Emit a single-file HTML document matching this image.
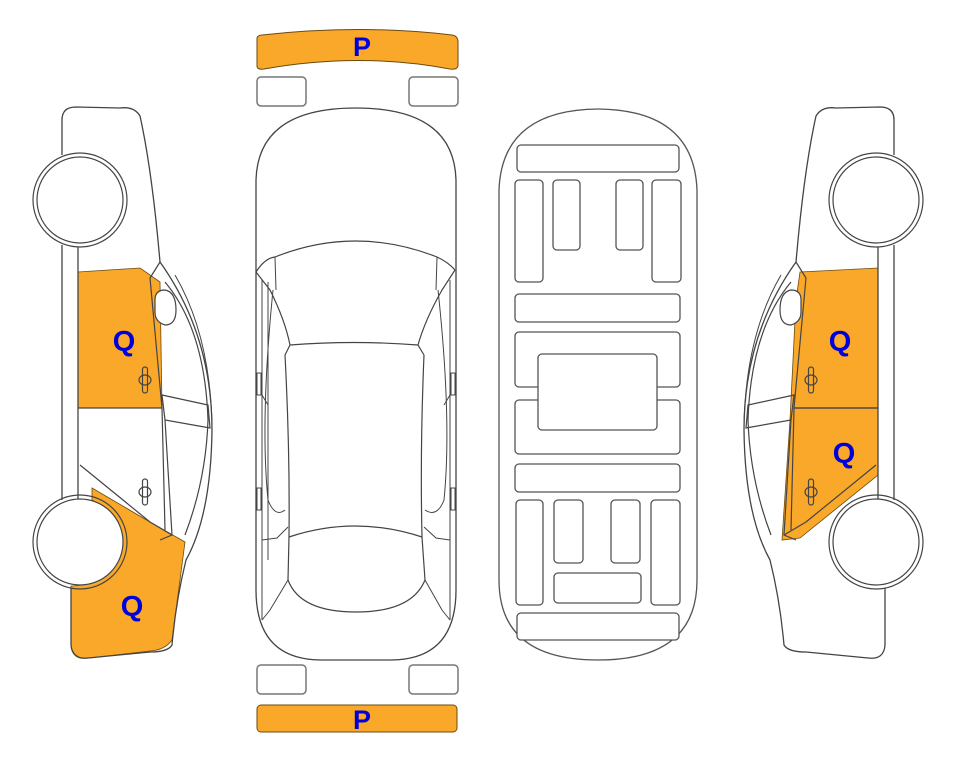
<!DOCTYPE html>
<html><head><meta charset="utf-8"><style>
html,body{margin:0;padding:0;background:#fff;}
svg{display:block;}
text{font-family:"Liberation Sans",Arial,sans-serif;font-weight:bold;fill:#0000dd;}
</style></head><body>
<svg width="963" height="768" viewBox="0 0 963 768" xmlns="http://www.w3.org/2000/svg">
<defs>
<g id="side">
  <!-- body outline -->
  <path d="M62,120 Q62,107 76,107 L120,108 Q134,106 140,116 Q152,170 160,262 Q212,335 212,430 Q211,515 186,560 Q176,600 172,645 Q168,652 150,652 L88,658 Q72,660 71,645 L71,588 M62,245 L62,500 M62,118 L62,155" fill="none" stroke="#444" stroke-width="1.3"/>
  <line x1="78" y1="245" x2="78" y2="500" stroke="#444" stroke-width="1.3"/>
  <!-- windows / pillars -->
  <path d="M160,262 L150,278 M165,282 Q205,330 208,420 Q206,480 185,535" fill="none" stroke="#444" stroke-width="1.2"/>
  <path d="M175,275 Q210,335 212,425" fill="none" stroke="#444" stroke-width="1"/>
  <path d="M162,395 L208,405 L210,428 L165,420 Z" fill="none" stroke="#444" stroke-width="1.2"/>
  <path d="M165,420 L172,535 L160,540" fill="none" stroke="#444" stroke-width="1.2"/>
  <path d="M150,278 L162,408 L165,530" fill="none" stroke="#444" stroke-width="1.2"/>
  <path d="M78,408 L162,408" fill="none" stroke="#444" stroke-width="1.2"/>
  <path d="M80,465 L150,522 L172,535" fill="none" stroke="#444" stroke-width="1.2"/>
  <!-- mirror -->
  <path d="M155,300 Q155,290 165,290 Q176,292 176,310 Q176,325 165,325 Q155,322 155,312 Z" fill="#fff" stroke="#444" stroke-width="1.2"/>
  <!-- wheels -->
  <circle cx="80" cy="200" r="47" fill="#fff" stroke="#444" stroke-width="1.2"/>
  <circle cx="80" cy="200" r="43" fill="#fff" stroke="#444" stroke-width="1.2"/>
  <circle cx="80" cy="542" r="47" fill="none" stroke="#444" stroke-width="1.2"/>
  <circle cx="80" cy="542" r="43" fill="#fff" stroke="#444" stroke-width="1.2"/>
</g>
<g id="handle">
  <rect x="-2.5" y="-13" width="5" height="26" rx="2.5" fill="none" stroke="#444" stroke-width="1.2"/>
  <ellipse cx="0" cy="0" rx="6" ry="5" fill="none" stroke="#444" stroke-width="1.2"/>
</g>
</defs>

<!-- LEFT CAR -->
<path d="M78,272 L140,268 L160,282 L162,408 L78,408 Z" fill="#faa82a" stroke="#6a4a10" stroke-width="0.8"/>
<path d="M92,488 L150,522 L185,542 L180,580 L172,640 Q165,650 150,651 L90,658 Q73,660 71,645 L71,586 Q105,585 118,560 Q128,520 92,500 Z" fill="#faa82a" stroke="#6a4a10" stroke-width="0.8"/>
<use href="#side"/>
<use href="#handle" x="145" y="380"/>
<use href="#handle" x="145" y="492"/>
<text x="124" y="351" font-size="29" text-anchor="middle">Q</text>
<text x="132" y="616" font-size="29" text-anchor="middle">Q</text>

<!-- RIGHT CAR -->
<path d="M800,272 L878,268 L878,475 L800,538 L782,540 L790,420 L796,300 Z" fill="#faa82a" stroke="#6a4a10" stroke-width="0.8"/>
<g transform="translate(956,0) scale(-1,1)">
  <use href="#side"/>
  <path d="M78,408 L162,408" stroke="#444" stroke-width="1.2"/>
  <use href="#handle" x="145" y="380"/>
  <use href="#handle" x="145" y="492"/>
</g>
<text x="840" y="351" font-size="29" text-anchor="middle">Q</text>
<text x="844" y="463" font-size="29" text-anchor="middle">Q</text>

<!-- TOP VIEW CAR -->
<path d="M257,38 Q258,35 262,35 Q360,24 452,35 Q458,36 458,42 L458,66 Q457,70 450,69 Q360,52 264,69 Q257,70 257,66 Z" fill="#faa82a" stroke="#6a4a10" stroke-width="1"/>
<text x="362" y="56" font-size="27" text-anchor="middle">P</text>
<rect x="257" y="77" width="49" height="29" rx="4" fill="#fff" stroke="#777" stroke-width="1.5"/>
<rect x="409" y="77" width="49" height="29" rx="4" fill="#fff" stroke="#777" stroke-width="1.5"/>
<rect x="257" y="665" width="49" height="29" rx="4" fill="#fff" stroke="#777" stroke-width="1.5"/>
<rect x="409" y="665" width="49" height="29" rx="4" fill="#fff" stroke="#777" stroke-width="1.5"/>
<rect x="257" y="705" width="200" height="27" rx="4" fill="#faa82a" stroke="#6a4a10" stroke-width="1"/>
<text x="362" y="729" font-size="27" text-anchor="middle">P</text>

<path d="M256,180 Q258,108 356,108 Q454,108 456,180 L456,590 Q456,660 390,660 L322,660 Q256,660 256,590 Z" fill="none" stroke="#444" stroke-width="1.3"/>
<path d="M256,272 Q265,258 275,257 Q355,225 437,257 Q448,262 455,270" fill="none" stroke="#444" stroke-width="1.2"/>
<path d="M256,272 L270,290 Q285,320 290,345 L285,355 M455,270 L442,290 Q425,320 418,345 L424,355" fill="none" stroke="#444" stroke-width="1.2"/>
<path d="M275,257 L276,290 M437,257 L436,290" fill="none" stroke="#444" stroke-width="1"/>
<path d="M290,345 Q355,340 418,345" fill="none" stroke="#444" stroke-width="1.2"/>
<path d="M285,355 Q290,450 289,537 M424,355 Q420,450 422,537" fill="none" stroke="#444" stroke-width="1.2"/>
<path d="M289,537 Q355,515 422,537" fill="none" stroke="#444" stroke-width="1.2"/>
<path d="M289,537 L288,580 Q300,612 356,612 Q412,612 425,580 L422,537" fill="none" stroke="#444" stroke-width="1.2"/>
<path d="M268,282 L268,560 Q268,520 268,282 M273,290 Q260,420 268,500 Q275,518 285,510 M438,290 Q452,420 444,500 Q437,518 425,510" fill="none" stroke="#444" stroke-width="1"/>
<path d="M262,280 L262,620 M450,280 L450,620" fill="none" stroke="#444" stroke-width="1"/>
<path d="M262,540 L277,538 L288,527 M450,540 L436,538 L424,527" fill="none" stroke="#444" stroke-width="1"/>
<path d="M288,580 L270,610 L262,620 M425,580 L442,610 L450,620" fill="none" stroke="#444" stroke-width="1"/>
<path d="M262,395 L268,405 M450,395 L444,405" fill="none" stroke="#444" stroke-width="1"/>
<rect x="257" y="373" width="4" height="22" fill="none" stroke="#444" stroke-width="1"/>
<rect x="451" y="373" width="4" height="22" fill="none" stroke="#444" stroke-width="1"/>
<rect x="257" y="488" width="4" height="22" fill="none" stroke="#444" stroke-width="1"/>
<rect x="451" y="488" width="4" height="22" fill="none" stroke="#444" stroke-width="1"/>

<!-- UNDERBODY -->
<g fill="#fff" stroke="#555" stroke-width="1.3">
<path d="M499,190 Q502,110 598,109 Q694,110 697,190 L697,580 Q697,660 598,660 Q499,660 499,580 Z"/>
<rect x="517" y="145" width="162" height="27" rx="4"/>
<rect x="515" y="180" width="28" height="102" rx="4"/>
<rect x="553" y="180" width="27" height="70" rx="4"/>
<rect x="616" y="180" width="27" height="70" rx="4"/>
<rect x="652" y="180" width="29" height="102" rx="4"/>
<rect x="515" y="294" width="165" height="28" rx="4"/>
<rect x="515" y="332" width="165" height="55" rx="4"/>
<rect x="515" y="400" width="165" height="54" rx="4"/>
<rect x="538" y="354" width="119" height="76" rx="4"/>
<rect x="515" y="464" width="165" height="28" rx="4"/>
<rect x="516" y="500" width="27" height="105" rx="4"/>
<rect x="554" y="500" width="29" height="63" rx="4"/>
<rect x="611" y="500" width="29" height="63" rx="4"/>
<rect x="651" y="500" width="29" height="105" rx="4"/>
<rect x="554" y="573" width="87" height="30" rx="4"/>
<rect x="517" y="613" width="162" height="27" rx="4"/>
</g>
</svg>
</body></html>
